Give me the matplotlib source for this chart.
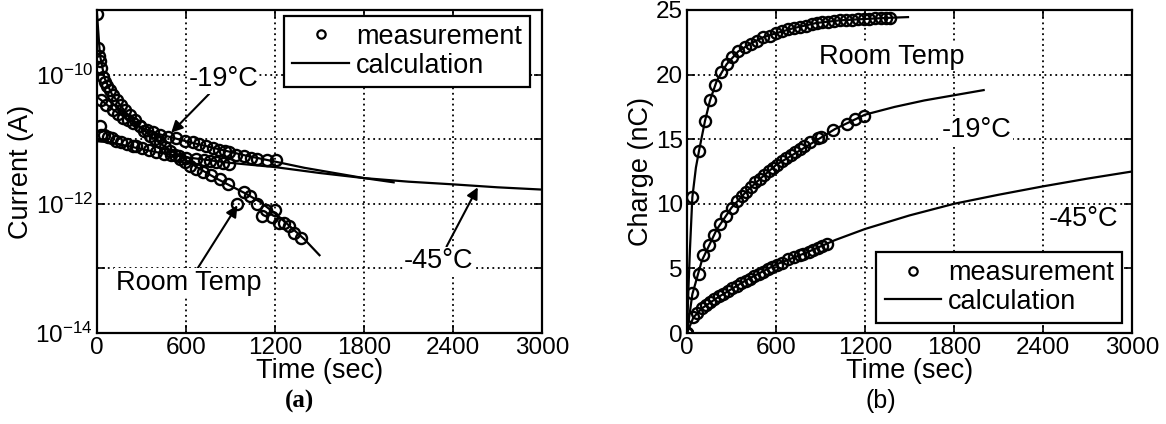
import matplotlib
matplotlib.use("Agg")
import matplotlib.pyplot as plt

plt.rcParams['font.family'] = ['Liberation Sans', 'DejaVu Sans']
plt.rcParams['mathtext.fontset'] = 'custom'
plt.rcParams['mathtext.rm'] = 'Liberation Sans'
plt.rcParams['mathtext.it'] = 'Liberation Sans:italic'
plt.rcParams['mathtext.bf'] = 'Liberation Sans:bold'

# ---------------- Panel (a): current vs time ----------------
t_rt_meas_a = [0, 8, 15, 22, 30, 40, 55, 70, 88, 110, 132, 160, 188, 220, 256, 290, 320,
               357, 390, 424, 460, 492, 525, 559, 590, 627, 670, 716, 770, 828, 880, 947,
               993, 1030, 1080, 1113, 1138, 1180, 1200, 1227, 1260, 1294, 1330, 1372]
i_rt_meas_a = [8.7e-10, 2.6e-10, 1.95e-10, 1.6e-10, 1.26e-10, 9.3e-11, 7.6e-11, 6.6e-11,
               5.75e-11, 4.8e-11, 4.1e-11, 3.4e-11, 2.8e-11, 2.4e-11, 2.0e-11, 1.6e-11,
               1.35e-11, 1.12e-11, 1.0e-11, 8.9e-12, 7.6e-12, 6.6e-12, 5.6e-12, 4.9e-12,
               4.4e-12, 3.9e-12, 3.5e-12, 3.1e-12, 2.75e-12, 2.45e-12, 2.0e-12, 1.0e-12,
               1.5e-12, 1.3e-12, 1.0e-12, 6.5e-13, 7.9e-13, 6.3e-13, 8.0e-13, 5.0e-13,
               5.0e-13, 4.5e-13, 3.5e-13, 3.0e-13]
t_rt_calc_a = [0, 20, 50, 100, 200, 300, 400, 500, 600, 700, 800, 900, 1000, 1100, 1200,
               1300, 1400, 1500]
i_rt_calc_a = [8.7e-10, 2.0e-10, 8.9e-11, 5.0e-11, 2.5e-11, 1.48e-11, 9.5e-12, 6.6e-12,
               4.7e-12, 3.4e-12, 2.5e-12, 1.9e-12, 1.45e-12, 1.07e-12, 7.1e-13, 4.5e-13,
               2.8e-13, 1.6e-13]

t_m19_meas_a = [30, 60, 108, 140, 175, 210, 243, 290, 334, 380, 423, 480, 534, 590, 646,
                690, 735, 780, 825, 860, 892, 940, 992, 1040, 1081, 1148, 1204]
i_m19_meas_a = [4.1e-11, 3.4e-11, 2.8e-11, 2.45e-11, 2.15e-11, 1.95e-11, 1.8e-11, 1.6e-11,
                1.4e-11, 1.3e-11, 1.17e-11, 1.1e-11, 1.05e-11, 9.5e-12, 8.9e-12, 8.3e-12,
                7.9e-12, 7.4e-12, 6.9e-12, 6.6e-12, 6.3e-12, 5.75e-12, 5.4e-12, 5.1e-12,
                5.0e-12, 4.8e-12, 4.7e-12]
t_m19_calc_a = [0, 30, 100, 200, 300, 400, 600, 800, 1000, 1200, 1400, 1600, 1800, 2000]
i_m19_calc_a = [4.5e-11, 4.0e-11, 2.95e-11, 2.1e-11, 1.5e-11, 1.23e-11, 9.3e-12, 7.2e-12,
                5.6e-12, 4.5e-12, 3.6e-12, 3.0e-12, 2.5e-12, 2.15e-12]

t_m45_meas_a = [20, 30, 50, 75, 100, 130, 160, 200, 240, 266, 300, 350, 400, 450, 500,
                550, 600, 668, 720, 760, 802, 850, 892]
i_m45_meas_a = [1.6e-11, 1.17e-11, 1.17e-11, 1.1e-11, 1.05e-11, 9.5e-12, 8.9e-12, 8.3e-12,
                7.9e-12, 7.8e-12, 7.2e-12, 6.8e-12, 6.3e-12, 6.0e-12, 5.6e-12, 5.4e-12,
                5.1e-12, 4.9e-12, 4.7e-12, 4.6e-12, 4.5e-12, 4.3e-12, 4.2e-12]
t_m45_calc_a = [0, 100, 200, 400, 600, 900, 1200, 1500, 1800, 2100, 2400, 2700, 3000]
i_m45_calc_a = [9.3e-12, 8.9e-12, 7.9e-12, 6.3e-12, 5.25e-12, 4.3e-12, 3.7e-12, 3.0e-12,
                2.5e-12, 2.2e-12, 2.0e-12, 1.8e-12, 1.66e-12]

# ---------------- Panel (b): charge vs time ----------------
t_rt_meas_b = [0, 36, 81, 121, 155, 189, 227, 267, 301, 346, 391, 429, 470, 515, 560, 600,
               640, 680, 720, 760, 800, 840, 874, 910, 950, 990, 1030, 1070, 1110, 1150,
               1190, 1230, 1270, 1310, 1340, 1370]
q_rt_meas_b = [0, 10.5, 14.1, 16.4, 18.0, 19.2, 20.2, 20.8, 21.4, 21.8, 22.1, 22.4, 22.6,
               22.9, 23.0, 23.2, 23.35, 23.5, 23.6, 23.7, 23.8, 23.9, 24.0, 24.05, 24.1,
               24.15, 24.2, 24.2, 24.25, 24.3, 24.3, 24.3, 24.35, 24.35, 24.4, 24.4]
t_rt_calc_b = [0, 10, 20, 36, 60, 81, 121, 155, 200, 267, 346, 429, 515, 600, 720, 874,
               1030, 1190, 1370, 1490]
q_rt_calc_b = [0, 3.5, 6.5, 10.5, 12.8, 14.1, 16.4, 18.0, 19.5, 20.8, 21.8, 22.4, 22.9,
               23.2, 23.6, 24.0, 24.2, 24.3, 24.4, 24.45]

t_m19_meas_b = [0, 36, 81, 110, 150, 182, 222, 263, 301, 335, 370, 400, 430, 460, 490, 520,
                550, 580, 605, 640, 670, 700, 730, 760, 790, 829, 883, 900, 985, 1077,
                1133, 1193]
q_m19_meas_b = [0, 3.1, 4.6, 6.0, 6.8, 7.6, 8.4, 9.05, 9.7, 10.2, 10.6, 10.95, 11.3, 11.65,
                11.95, 12.25, 12.55, 12.8, 13.0, 13.3, 13.55, 13.8, 14.0, 14.25, 14.45,
                14.8, 15.1, 15.2, 15.7, 16.2, 16.6, 16.8]
t_m19_calc_b = [0, 36, 100, 200, 300, 400, 500, 600, 800, 1000, 1200, 1400, 1600, 1800, 2000]
q_m19_calc_b = [0, 3.0, 5.6, 8.0, 9.7, 10.95, 12.0, 13.0, 14.4, 15.8, 16.9, 17.5, 18.0,
                18.4, 18.8]

t_m45_meas_b = [0, 43, 70, 99, 130, 155, 185, 215, 245, 275, 305, 335, 365, 395, 425, 455,
                485, 515, 545, 575, 605, 640, 680, 720, 760, 784, 820, 852, 880, 908, 945]
q_m45_meas_b = [0, 1.2, 1.55, 1.9, 2.15, 2.4, 2.6, 2.85, 3.05, 3.25, 3.45, 3.65, 3.85, 4.0,
                4.2, 4.4, 4.55, 4.75, 4.95, 5.1, 5.3, 5.45, 5.7, 5.9, 6.05, 6.15, 6.3, 6.4,
                6.55, 6.7, 6.85]
t_m45_calc_b = [0, 43, 100, 200, 300, 400, 600, 800, 1000, 1200, 1500, 1800, 2100, 2400,
                2700, 3000]
q_m45_calc_b = [0, 1.2, 1.9, 2.7, 3.4, 4.1, 5.3, 6.2, 7.2, 8.05, 9.1, 10.0, 10.7, 11.35,
                11.95, 12.5]

x_ticks = [0, 600, 1200, 1800, 2400, 3000]
x_ticklabels = ['0', '600', '1200', '1800', '2400', '3000']
y_ticks_a = [1e-14, 1e-13, 1e-12, 1e-11, 1e-10, 1e-9]
y_ticklabels_a = ['$10^{-14}$', '', '$10^{-12}$', '', '$10^{-10}$', '']
y_ticks_b = [0, 5, 10, 15, 20, 25]
y_ticklabels_b = ['0', '5', '10', '15', '20', '25']

FS = 19.5
TFS = 17.5
meas_kw = dict(linestyle='none', marker='o', ms=8, mfc='none', mec='black', mew=1.7, zorder=3)
calc_kw = dict(color='black', lw=1.6, zorder=2.5)
grid_kw = dict(color='black', linestyle=(0, (1, 2)), linewidth=1.3)
box = dict(facecolor='white', edgecolor='none', pad=1)
arrow = dict(arrowstyle='-|>', color='black', lw=1.5, mutation_scale=17, shrinkA=0, shrinkB=0)

fig = plt.figure(figsize=(11.66, 4.24), dpi=100)
ax1 = fig.add_axes([97 / 1166, 1 - 333 / 424, 445 / 1166, 323 / 424])
ax2 = fig.add_axes([687 / 1166, 1 - 333 / 424, 445 / 1166, 323 / 424])

def style(ax):
    ax.set_xlim(0, 3000)
    ax.set_xticks(x_ticks)
    ax.set_xticklabels(x_ticklabels)
    ax.minorticks_off()
    ax.tick_params(direction='in', length=6, width=1.2, top=True, right=True,
                   labelsize=TFS, pad=3)
    ax.grid(True, **grid_kw)
    for s in ax.spines.values():
        s.set_linewidth(1.6)
    ax.set_xlabel('Time (sec)', fontsize=FS, labelpad=-1)

leg_kw = dict(borderaxespad=0, fontsize=FS, fancybox=False, framealpha=1, edgecolor='black',
              handlelength=2.1, handletextpad=0.25, borderpad=0.3, labelspacing=0.1)

# ---- (a)
ax1.set_yscale('log')
ax1.set_ylim(1e-14, 1e-9)
ax1.plot(t_rt_calc_a, i_rt_calc_a, **calc_kw)
ax1.plot(t_m19_calc_a, i_m19_calc_a, **calc_kw)
ax1.plot(t_m45_calc_a, i_m45_calc_a, **calc_kw)
ax1.plot(t_rt_meas_a, i_rt_meas_a, **meas_kw)
ax1.plot(t_m19_meas_a, i_m19_meas_a, **meas_kw)
ax1.plot(t_m45_meas_a, i_m45_meas_a, **meas_kw)
ax1.plot([], [], label='measurement', linestyle='none', marker='o', ms=6, mfc='none', mec='black', mew=1.6)
ax1.plot([], [], label='calculation', color='black', lw=1.6)
style(ax1)
ax1.set_yticks(y_ticks_a)
ax1.set_yticklabels(y_ticklabels_a)
ax1.minorticks_off()
ax1.set_ylabel('Current (A)', fontsize=FS, labelpad=1)
leg1 = ax1.legend(loc='upper right', bbox_to_anchor=(0.973, 0.982), **leg_kw)
leg1.get_frame().set_linewidth(1.6)

ax1.annotate('-19°C', xy=(500, 1.26e-11), xytext=(851, 8.4e-11), fontsize=FS,
             ha='center', va='center', bbox=box, arrowprops=arrow)
ax1.annotate('Room Temp', xy=(947, 9.5e-13), xytext=(617, 6.0e-14), fontsize=FS,
             ha='center', va='center', bbox=box, arrowprops=arrow)
ax1.annotate('-45°C', xy=(2567, 1.8e-12), xytext=(2305, 1.3e-13), fontsize=FS,
             ha='center', va='center', bbox=box, arrowprops=arrow)

# ---- (b)
ax2.set_ylim(0, 25)
ax2.plot(t_rt_calc_b, q_rt_calc_b, **calc_kw)
ax2.plot(t_m19_calc_b, q_m19_calc_b, **calc_kw)
ax2.plot(t_m45_calc_b, q_m45_calc_b, **calc_kw)
ax2.plot(t_rt_meas_b, q_rt_meas_b, **meas_kw)
ax2.plot(t_m19_meas_b, q_m19_meas_b, **meas_kw)
ax2.plot(t_m45_meas_b, q_m45_meas_b, **meas_kw)
ax2.plot([], [], label='measurement', linestyle='none', marker='o', ms=6, mfc='none', mec='black', mew=1.6)
ax2.plot([], [], label='calculation', color='black', lw=1.6)
style(ax2)
ax2.set_yticks(y_ticks_b)
ax2.set_yticklabels(y_ticklabels_b)
ax2.set_ylabel('Charge (nC)', fontsize=FS, labelpad=1)
leg2 = ax2.legend(loc='lower right', bbox_to_anchor=(0.978, 0.031), **leg_kw)
leg2.get_frame().set_linewidth(1.6)

ax2.text(1382, 21.4, 'Room Temp', fontsize=FS, ha='center', va='center', bbox=box)
ax2.text(1955, 15.7, '-19°C', fontsize=FS, ha='center', va='center', bbox=box)
ax2.text(2670, 8.8, '-45°C', fontsize=FS, ha='center', va='center', bbox=box)

fig.text(300 / 1166, 1 - 401 / 424, '(a)', fontsize=18, ha='center', va='center',
         family=['Liberation Serif', 'DejaVu Serif'], weight='bold')
fig.text(881 / 1166, 1 - 401 / 424, '(b)', fontsize=18, ha='center', va='center')

fig.savefig('out.png', dpi=100)
